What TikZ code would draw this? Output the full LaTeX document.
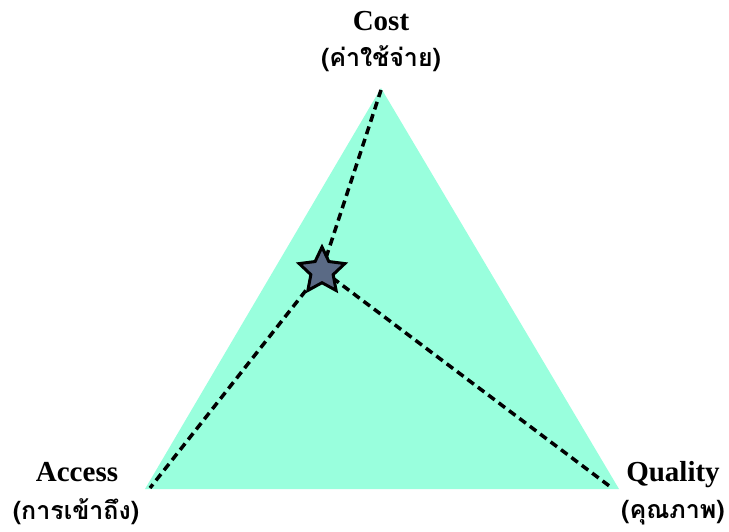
\documentclass[tikz,border=0pt]{standalone}
\usepackage{fontspec}
\setmainfont{Liberation Serif}
\newfontfamily\thaifont[Script=Thai]{Loma}
\usetikzlibrary{shapes.geometric}
\definecolor{mint}{HTML}{99FFDD}
\definecolor{slate}{HTML}{5A6A85}
\tikzset{
  lbl/.style={font=\fontsize{29}{32}\selectfont\bfseries, inner sep=0pt, anchor=base},
  thlbl/.style={font=\fontsize{25}{28}\selectfont\bfseries\thaifont, inner sep=0pt},
  spoke/.style={draw=black, line width=3.5pt, dash pattern=on 8pt off 5pt},
}
\begin{document}
\begin{tikzpicture}[x=1pt,y=-1pt]
\useasboundingbox (0,0) rectangle (729,531);
\coordinate (top) at (381,88);
\coordinate (bl) at (145,489);
\coordinate (br) at (619,489);
\fill[mint] (top) -- (bl) -- (br) -- cycle;
\coordinate (ctr) at (322,270);
\coordinate (etop) at (381,90);
\coordinate (ebl) at (150,488);
\coordinate (ebr) at (612,488);
\draw[spoke] (ctr) -- (etop);
\draw[spoke] (ctr) -- (ebl);
\draw[spoke] (ctr) -- (ebr);
\node[star, star points=5, star point ratio=2.05, minimum size=48pt, inner sep=0pt, fill=slate, draw=black, line width=3pt] (st) at (322,271) {};
\node[lbl] (cost) at (381,30) {Cost};
\node[thlbl] (costth) at (381,59) {(ค่าใช้จ่าย)};
\node[lbl] (acc) at (77,481) {Access};
\node[thlbl] (accth) at (76,512) {(การเข้าถึง)};
\node[lbl] (qual) at (673,481) {Quality};
\node[thlbl] (qualth) at (673,513) {(คุณภาพ)};
\end{tikzpicture}
\end{document}
